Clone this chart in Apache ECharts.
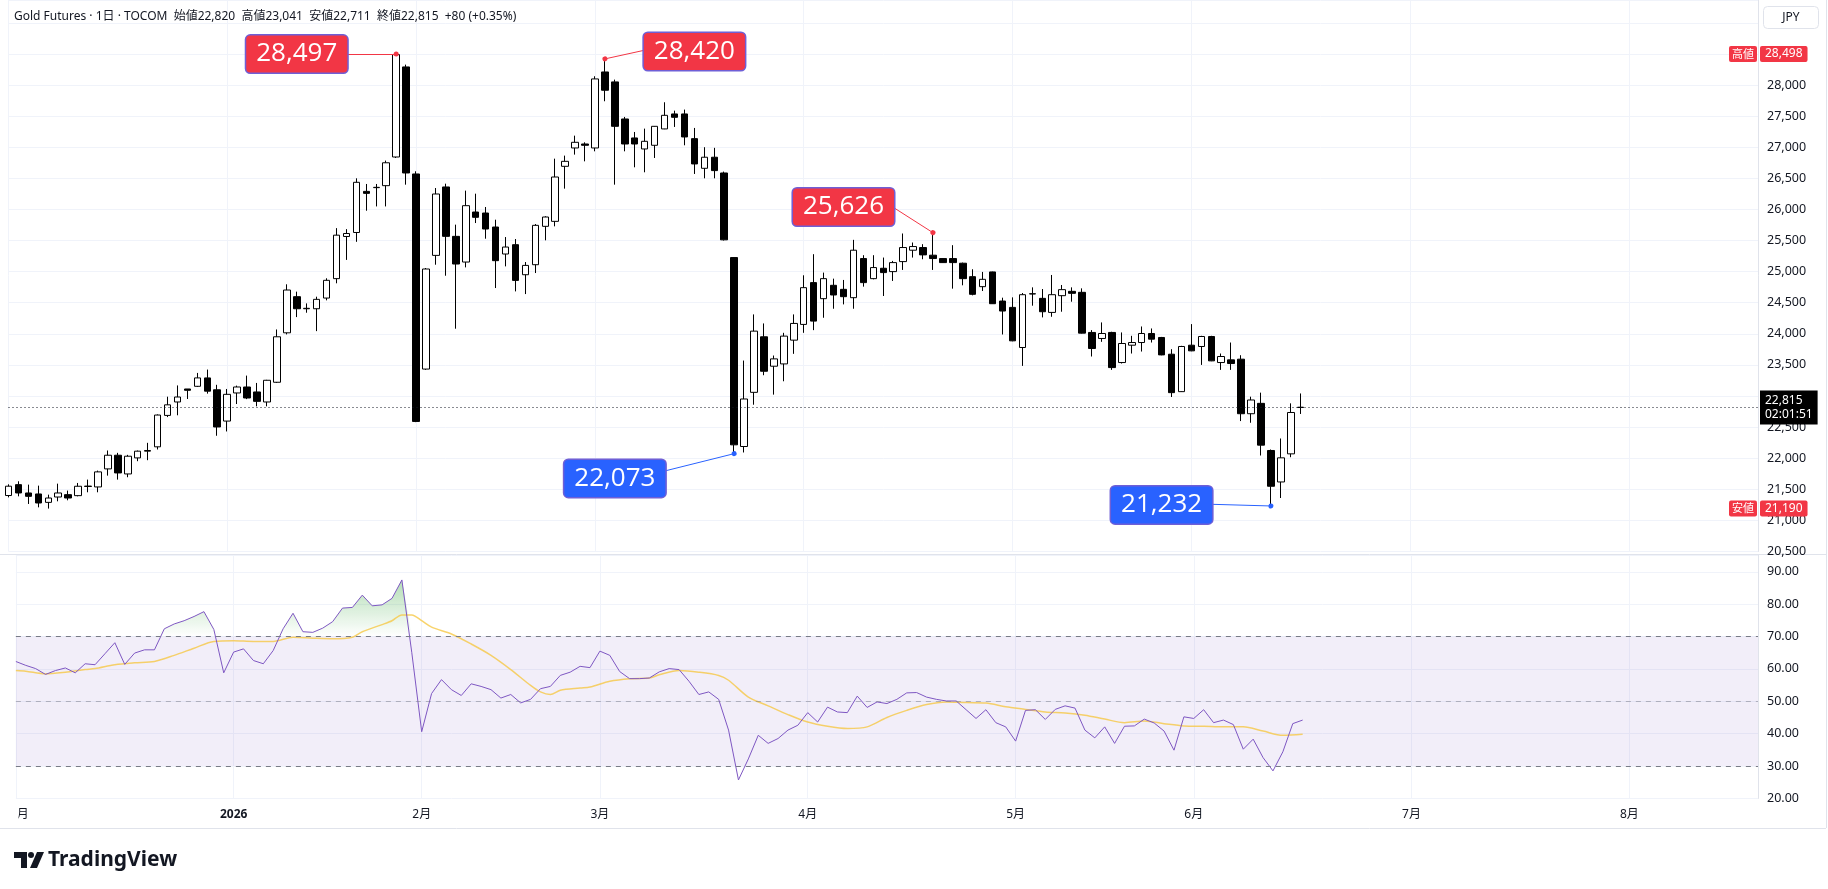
<!DOCTYPE html>
<html>
<head>
<meta charset="utf-8">
<title>Gold Futures 1日 TOCOM</title>
<script src="https://cdn.jsdelivr.net/npm/echarts@6/dist/echarts.min.js"></script>
<style>
  html, body { margin: 0; padding: 0; background: #ffffff; }
  #main { width: 1828px; height: 889px; }
</style>
</head>
<body>
<div id="main"></div>
<script>
// daily bars, 2025-12-01 .. 2026-06-16 (TOCOM gold)
var opens = [21400,21575,21441,21425,21290,21376,21414,21398,21545,21538,
  21828,22048,21747,22005,22113,22183,22688,22904,23113,23156,
  23291,23100,22597,23049,23145,23065,22904,23221,24016,24597,
  24403,24403,24575,24887,25565,25629,26290,26350,26382,26843,
  28291,26570,23433,25261,26361,25567,25154,25958,25942,25717,
  25283,25433,24950,25111,25728,25808,26693,26988,27052,26988,
  28210,28050,27454,27149,26972,27031,27294,27535,27535,27138,
  26661,26839,26586,25226,22188,23059,23952,23479,23516,23898,
  24151,24823,24565,24780,24715,24581,25210,24887,25054,25000,
  25161,25344,25387,25264,25210,25210,25135,24919,24758,24995,
  24527,24425,23780,24640,24570,24344,24613,24683,24667,24022,
  23925,24022,23538,23817,23860,24005,23941,23672,23070,23817,
  23796,23957,23538,23581,23592,22715,22882,22124,21618,22070,
  22820];
var highs = [21580,21629,21575,21559,21414,21591,21479,21602,21656,21801,
  22124,22086,22054,22124,22247,22704,22989,23170,23113,23371,
  23425,23180,23113,23167,23328,23210,23260,24070,24796,24678,
  24489,24597,24893,25699,25683,26500,26409,26409,26785,28498,
  28328,26613,25058,26344,26414,25755,26302,26253,26039,25835,
  25556,25524,25154,25765,25890,26816,26865,27186,27079,28141,
  28420,28087,27487,27245,27299,27340,27723,27588,27605,27310,
  27000,26990,26608,25230,23570,24312,24167,23651,24016,24312,
  24941,25280,24984,24887,24866,25511,25264,25264,25226,25172,
  25613,25468,25441,25626,25215,25425,25145,25038,24995,25000,
  24581,24586,24656,24747,24720,24946,24785,24747,24731,24060,
  24183,24033,24022,23968,24118,24086,23950,23753,23807,24156,
  23968,23968,23683,23860,23656,22989,23054,22140,22317,22882,
  23041];
var lows = [21370,21387,21264,21210,21190,21307,21323,21387,21452,21452,
  21720,21656,21694,21952,21968,22140,22661,22690,22952,23145,
  23038,22361,22430,22871,22950,22834,22834,23210,23990,24269,
  24339,24043,24538,24812,25188,25479,25979,26048,26048,26827,
  26398,22580,23420,25111,24934,24082,25068,25781,25529,24736,
  25084,24682,24639,24977,25503,25728,26334,26881,26773,26934,
  27739,26398,26934,26677,26597,26827,27290,27326,27031,26570,
  26500,26500,25500,22073,22092,22860,23334,23022,23237,23678,
  24016,24059,24258,24403,24473,24403,24758,24876,24608,24850,
  25027,25226,25199,25027,25140,24726,24780,24618,24688,24480,
  23989,23880,23484,24452,24264,24274,24355,24516,24005,23635,
  23871,23420,23522,23683,23715,23860,23655,22984,23065,23720,
  23500,23560,23420,23420,22597,22570,22043,21232,21360,22016,
  22711];
var closes = [21550,21441,21387,21280,21360,21441,21360,21549,21552,21780,
  22048,21763,22032,22113,22124,22694,22858,22984,23092,23291,
  23078,22502,23027,23145,22968,22914,23253,23952,24704,24403,
  24410,24554,24860,25586,25613,26436,26258,26355,26750,28489,
  26586,22591,25042,26248,25567,25122,26060,25873,25685,25176,
  25395,24859,25100,25744,25878,26521,26773,27079,27031,28098,
  27916,27336,27052,27052,27095,27336,27513,27481,27165,26731,
  26839,26624,25511,22215,22952,24043,23398,23597,23963,24167,
  24742,24204,24887,24624,24597,25344,24823,25065,24984,25145,
  25387,25403,25269,25210,25145,25145,24887,24635,24876,24484,
  24366,23887,24629,24645,24355,24629,24710,24651,24011,23764,
  24005,23457,23844,23860,24005,23914,23661,23054,23796,23726,
  23957,23565,23635,23522,22715,22936,22210,21549,22006,22735,
  22815];

// RSI(14) and its moving average (read where visible)
var rsi = [62.3,61.1,60.1,58.3,59.5,60.3,58.8,61.6,61.3,64.7,
  68.1,61.4,64.9,65.9,65.9,72.4,73.9,74.9,76.2,77.7,
  72.2,58.8,65.2,66.2,62.6,61.6,65.7,72.4,77.2,71.5,
  71.3,72.6,74.6,78.8,79.0,82.8,79.5,79.8,81.8,87.5,
  65.0,40.6,52.4,56.7,53.6,51.8,55.4,54.6,53.6,51.0,
  52.1,49.5,50.6,53.9,54.6,58.0,59.0,60.8,60.4,65.5,
  64.2,59.2,57.0,57.0,57.2,59.1,60.1,59.8,56.2,52.1,
  52.9,50.6,41.1,25.7,32.2,39.5,37.0,38.5,41.1,42.6,
  46.5,43.6,48.2,46.7,46.5,51.6,48.1,49.8,49.3,50.6,
  52.6,52.7,51.3,50.6,50.1,50.1,47.4,44.7,47.4,43.4,
  42.1,37.7,47.2,47.4,44.4,47.5,48.6,47.9,41.1,38.7,
  42.1,37.0,42.3,42.4,44.5,43.3,40.8,34.9,45.2,44.7,
  47.4,43.4,44.2,42.8,35.2,38.3,32.6,28.5,34.4,43.1,
  44.2];
var rsiMaIdx = [0,1,3,5,7,8,10,12,14,16,18,20,22,24,26,28,30,32,34,35,
  37,38,39,40,41,42,44,46,48,50,52,53,54,55,57,58,60,62,64,65,
  67,69,71,72,74,76,78,80,82,84,86,88,90,92,94,96,98,100,102,104,
  106,108,110,112,114,116,118,120,122,124,126,128,130];
var rsiMaVal = [59.5,59.3,58.5,59.0,59.8,60.1,61.3,61.9,62.3,64.2,66.4,68.5,68.7,68.5,68.5,69.8,69.5,69.3,69.8,71.5,
  73.7,74.9,76.7,76.7,74.9,72.9,70.8,67.7,64.2,59.8,54.9,52.9,52.1,53.4,54.1,54.4,56.2,57.0,57.2,58.2,
  59.5,59.0,58.0,56.5,51.3,48.6,45.9,43.6,42.3,41.6,42.1,45.0,47.2,49.0,49.8,49.6,49.5,48.3,47.5,46.7,
  46.4,45.7,44.5,43.4,43.9,43.1,42.4,42.3,42.1,42.1,40.8,39.5,39.8];

// exchange holidays (no bar)
var holidays = ['2025-12-31','2026-01-01','2026-01-02','2026-01-12','2026-02-11','2026-02-23',
  '2026-03-20','2026-04-29','2026-05-04','2026-05-05','2026-05-06','2026-07-20'];
var slotCount = 177;   // bars + empty space on the right

// drawn notes: value, bar it points at, box position, where the leader starts
var notes = [
  { value: 28497, at: 39,  box: [29, 28498],  from: [34, 28497], color: '#f23645' },
  { value: 28420, at: 60,  box: [69, 28539],  from: [64, 28560], color: '#f23645' },
  { value: 25626, at: 93,  box: [84, 26039],  from: [89, 26034], color: '#f23645' },
  { value: 22073, at: 73,  box: [61, 21674],  from: [66, 21794], color: '#2962ff' },
  { value: 21232, at: 127, box: [116, 21248], from: [121, 21259], color: '#2962ff' }
];

function fmt(v) {
  return String(Math.round(v)).replace(/\B(?=(\d{3})+(?!\d))/g, ',');
}

var categories = [];
var d = new Date(Date.UTC(2025, 11, 1));
while (categories.length < slotCount) {
  var wd = d.getUTCDay();
  var s = d.toISOString().slice(0, 10);
  if (wd !== 0 && wd !== 6 && holidays.indexOf(s) < 0) categories.push(s);
  d.setUTCDate(d.getUTCDate() + 1);
}
var monthStart = {};
for (var i = 0; i < categories.length; i++) {
  if (i === 0 || categories[i].slice(5, 7) !== categories[i - 1].slice(5, 7)) monthStart[i] = true;
}
function isMonthStart(idx) { return !!monthStart[idx]; }
function monthLabel(value) {
  var m = +value.slice(5, 7);
  return m === 1 ? '{y|' + value.slice(0, 4) + '}' : m + '月';
}

var ohlc = opens.map(function (o, k) { return [o, closes[k], lows[k], highs[k]]; });
var overbought = rsi.map(function (v) { return Math.max(v, 70); });
var rsiMa = rsiMaIdx.map(function (x, k) { return [x, rsiMaVal[k]]; });

var n = closes.length;
var chg = closes[n - 1] - closes[n - 2];
var header = 'Gold Futures · 1日 · TOCOM  始値' + fmt(opens[n - 1]) + '  高値' + fmt(highs[n - 1]) +
  '  安値' + fmt(lows[n - 1]) + '  終値' + fmt(closes[n - 1]) + '  ' + (chg >= 0 ? '+' : '') + chg +
  ' (' + (chg >= 0 ? '+' : '') + (chg / closes[n - 2] * 100).toFixed(2) + '%)';

var FONT = "'Noto Sans', 'Noto Sans CJK JP', sans-serif";
var gridColor = '#f0f3fa';

function tagRich(color) {
  return {
    t: { backgroundColor: color, color: '#fff', fontSize: 11, fontFamily: FONT, padding: [3, 3, 2, 3], borderRadius: 2 },
    g: { width: 3 },
    p: { backgroundColor: color, color: '#fff', fontSize: 12, fontFamily: FONT, padding: [2, 5, 2, 5], borderRadius: 2 }
  };
}

var markLines = [
  { type: 'max', valueDim: 'highest', lineStyle: { color: 'rgba(0,0,0,0)', width: 1 },
    label: { show: true, position: 'end', distance: -29,
      formatter: function (p) { return '{t|高値}{g|}{p|' + fmt(p.value) + '}'; }, rich: tagRich('#f23645') } },
  { type: 'min', valueDim: 'lowest', lineStyle: { color: 'rgba(0,0,0,0)', width: 1 },
    label: { show: true, position: 'end', distance: -29,
      formatter: function (p) { return '{t|安値}{g|}{p|' + fmt(p.value) + '}'; }, rich: tagRich('#f23645') } },
  { yAxis: closes[n - 1], lineStyle: { type: [1, 3], color: '#131722', width: 1 },
    label: { show: true, position: 'end', distance: 2, backgroundColor: '#000000', padding: [3, 5, 3, 5],
      formatter: function (p) { return '{p|' + fmt(p.value) + '}\n{c|02:01:51}'; },
      rich: { p: { color: '#fff', fontSize: 12, lineHeight: 14, fontFamily: FONT },
              c: { color: '#fff', fontSize: 12, lineHeight: 14, fontFamily: FONT } } } }
];
notes.forEach(function (nt) {
  markLines.push([
    { coord: nt.from, symbol: 'none', lineStyle: { color: nt.color, width: 1, type: 'solid' } },
    { coord: [nt.at, nt.value], symbol: 'circle', symbolSize: 5 }
  ]);
});
var markPoints = notes.map(function (nt) {
  return {
    coord: nt.box, value: nt.value, symbol: 'rect', symbolSize: 1,
    itemStyle: { color: 'rgba(0,0,0,0)' },
    label: { show: true, position: 'inside', formatter: fmt(nt.value), color: '#ffffff',
      fontSize: 26, fontFamily: "'Open Sans', 'Noto Sans', sans-serif", lineHeight: 30,
      backgroundColor: nt.color, borderColor: '#6f5fd6', borderWidth: 1.5, borderRadius: 4,
      padding: [4, 10, 3, 10] }
  };
});

var chart = echarts.init(document.getElementById('main'));
chart.setOption({
  animation: false,
  textStyle: { fontFamily: FONT },
  title: {
    text: header, left: 9, top: 6,
    textStyle: { fontSize: 12, fontWeight: 'normal', color: '#131722', fontFamily: FONT }
  },
  grid: [
    { left: 8.5, right: 70, top: 0, height: 551.5 },
    { left: 8.5, right: 70, top: 555, height: 243.4 }
  ],
  xAxis: [
    { type: 'category', gridIndex: 0, data: categories, boundaryGap: false,
      axisLine: { show: false }, axisTick: { show: false }, axisLabel: { show: false },
      splitLine: { show: true, interval: isMonthStart, lineStyle: { color: gridColor } } },
    { type: 'category', gridIndex: 1, data: categories, boundaryGap: false,
      axisLine: { show: false }, axisTick: { show: false },
      axisLabel: { show: true, interval: isMonthStart, formatter: monthLabel, margin: 10,
        fontSize: 12, color: '#131722', hideOverlap: false,
        rich: { y: { fontWeight: 'bold', fontSize: 12, color: '#131722' } } },
      splitLine: { show: true, interval: isMonthStart, lineStyle: { color: gridColor } } }
  ],
  yAxis: [
    { type: 'value', gridIndex: 0, position: 'right', min: 20500, max: 29367, interval: 500,
      axisLine: { show: true, lineStyle: { color: '#e0e3eb' } }, axisTick: { show: false },
      axisLabel: { margin: 9, fontSize: 12.5, color: '#131722', showMaxLabel: false,
        formatter: function (v) { return v > 28600 ? '' : fmt(v); } },
      splitLine: { lineStyle: { color: gridColor } } },
    { type: 'value', gridIndex: 1, position: 'right', min: 20, max: 95.2, interval: 10,
      axisLine: { show: true, lineStyle: { color: '#e0e3eb' } }, axisTick: { show: false },
      axisLabel: { margin: 9, fontSize: 12.5, color: '#131722', showMaxLabel: false,
        formatter: function (v) { return v > 91 ? '' : v.toFixed(2); } },
      splitLine: { lineStyle: { color: gridColor } } }
  ],
  series: [
    { name: 'Gold Futures', type: 'candlestick', xAxisIndex: 0, yAxisIndex: 0, data: ohlc,
      barWidth: 7,
      itemStyle: { color: '#ffffff', color0: '#000000', borderColor: '#000000', borderColor0: '#000000', borderWidth: 1 },
      markLine: { silent: true, symbol: ['none', 'none'], label: { show: false }, data: markLines },
      markPoint: { silent: true, data: markPoints } },
    { name: 'RSI', type: 'line', xAxisIndex: 1, yAxisIndex: 1, data: rsi, symbol: 'none', z: 4,
      lineStyle: { color: '#7e57c2', width: 1 },
      markArea: { silent: true, itemStyle: { color: 'rgba(126,87,194,0.1)' }, data: [[{ yAxis: 70 }, { yAxis: 30 }]] },
      markLine: { silent: true, symbol: ['none', 'none'], label: { show: false },
        data: [
          { yAxis: 70, lineStyle: { color: '#787b86', type: [5, 5], width: 1 } },
          { yAxis: 50, lineStyle: { color: 'rgba(120,123,134,0.5)', type: [5, 5], width: 1 } },
          { yAxis: 30, lineStyle: { color: '#787b86', type: [5, 5], width: 1 } }
        ] } },
    { name: 'overbought', type: 'line', xAxisIndex: 1, yAxisIndex: 1, data: overbought, symbol: 'none', z: 3,
      lineStyle: { width: 0 },
      areaStyle: { origin: 70, color: new echarts.graphic.LinearGradient(0, 0, 0, 1, [
        { offset: 0, color: 'rgba(76,175,80,0.6)' }, { offset: 1, color: 'rgba(76,175,80,0)' }]) } },
    { name: 'RSI MA', type: 'line', xAxisIndex: 1, yAxisIndex: 1, data: rsiMa, symbol: 'none', smooth: 0.3, z: 3,
      lineStyle: { color: 'rgba(246,200,70,0.8)', width: 1.5 } }
  ],
  graphic: [
    { type: 'line', shape: { x1: 0, y1: 554.5, x2: 1826, y2: 554.5 }, style: { stroke: '#e0e3eb', lineWidth: 1 } },
    { type: 'line', shape: { x1: 1826.5, y1: 0, x2: 1826.5, y2: 828 }, style: { stroke: '#e0e3eb', lineWidth: 1 } },
    { type: 'line', shape: { x1: 0, y1: 828.5, x2: 1826, y2: 828.5 }, style: { stroke: '#e0e3eb', lineWidth: 1 } },
    { type: 'rect', shape: { x: 0, y: 800, width: 18.5, height: 27 }, style: { fill: '#ffffff' }, z: 100 },
    { type: 'rect', shape: { x: 1763.5, y: 6.5, width: 55, height: 22, r: 4 }, style: { fill: '#ffffff', stroke: '#e0e3eb', lineWidth: 1 }, z: 100 },
    { type: 'text', style: { text: 'JPY', x: 1791, y: 17.5, align: 'center', verticalAlign: 'middle', fontSize: 12, fontFamily: FONT, fill: '#131722' }, z: 101 },
    { type: 'polygon', shape: { points: [[14, 852], [27, 852], [27, 868], [21, 868], [21, 858], [14, 858]] }, style: { fill: '#131722' }, z: 100 },
    { type: 'circle', shape: { cx: 31, cy: 855, r: 3 }, style: { fill: '#131722' }, z: 100 },
    { type: 'polygon', shape: { points: [[37, 852], [44, 852], [37, 868], [30, 868]] }, style: { fill: '#131722' }, z: 100 },
    { type: 'text', style: { text: 'TradingView', x: 48, y: 860, verticalAlign: 'middle', fontSize: 21, fontWeight: 'bold', fontFamily: FONT, fill: '#131722' }, z: 100 }
  ]
});
</script>
</body>
</html>
